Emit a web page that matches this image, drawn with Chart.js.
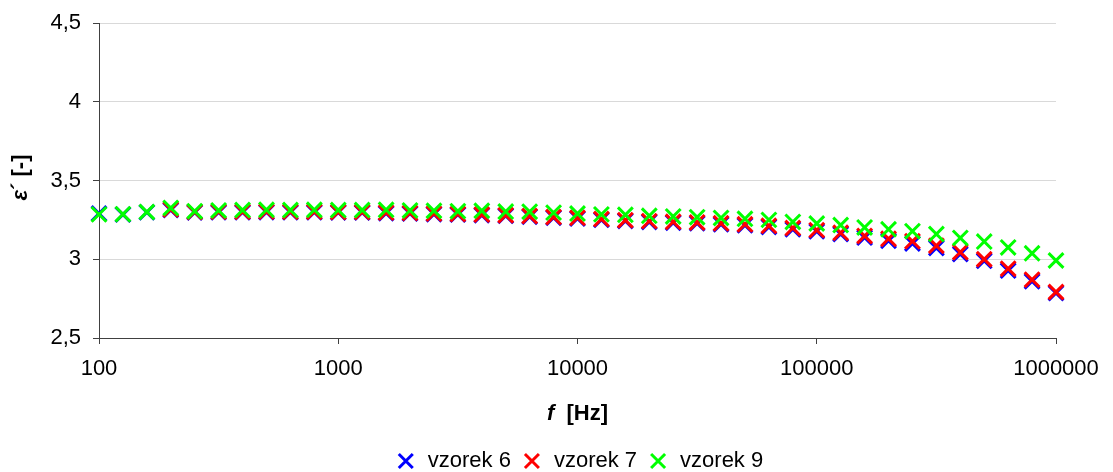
<!DOCTYPE html>
<html><head><meta charset="utf-8">
<script src="https://cdn.jsdelivr.net/npm/chart.js@4"></script>
<style>html,body{margin:0;padding:0;background:#fff}#wrap{width:1113px;height:472px}</style>
</head><body><div id="wrap"><canvas id="c" width="1113" height="472"></canvas></div>
<script>
const freqs = [100,125.9,158.5,199.5,251.2,316.2,398.1,501.2,631,794.3,
 1000,1259,1585,1995,2512,3162,3981,5012,6310,7943,
 10000,12589,15849,19953,25119,31623,39811,50119,63096,79433,
 100000,125893,158489,199526,251189,316228,398107,501187,630957,794328,1000000];
const vzorek6 = [3.29,3.284,3.298,3.312,3.297,3.298,3.298,3.299,3.298,3.298,
 3.297,3.296,3.292,3.29,3.286,3.284,3.28,3.276,3.27,3.264,
 3.258,3.25,3.243,3.237,3.232,3.228,3.222,3.215,3.205,3.19,
 3.177,3.16,3.138,3.118,3.1,3.072,3.033,2.99,2.928,2.86,2.785];
const vzorek7 = [null,null,null,3.316,3.30,3.302,3.302,3.303,3.302,3.302,
 3.30,3.30,3.296,3.294,3.29,3.288,3.284,3.28,3.274,3.268,
 3.263,3.255,3.248,3.242,3.238,3.234,3.228,3.222,3.212,3.198,
 3.185,3.168,3.148,3.13,3.114,3.086,3.045,3.0,2.94,2.87,2.792];
const vzorek9 = [3.285,3.286,3.30,3.326,3.305,3.31,3.312,3.314,3.312,3.314,
 3.312,3.312,3.314,3.31,3.308,3.305,3.308,3.303,3.302,3.296,
 3.29,3.285,3.282,3.276,3.272,3.267,3.262,3.257,3.25,3.237,
 3.227,3.217,3.202,3.19,3.178,3.16,3.135,3.112,3.075,3.038,2.992];
const xTicks = [100,1000,10000,100000,1000000];
const yTicks = [2.5,3,3.5,4,4.5];
const yTickLabels = ['2,5','3','3,5','4','4,5'];
const seriesNames = ['vzorek 6','vzorek 7','vzorek 9'];

const FAM = "'Liberation Sans', Arial, sans-serif";
const FS = 22;
function pts(vals){ return freqs.map((f,i)=>({x:f,y:vals[i]})).filter(p=>p.y!==null); }
function ds(label, vals, color, order){
  return {label, data: pts(vals), showLine:false, pointStyle:'crossRot', order,
    pointRadius:10.5, pointHoverRadius:10.5, pointBorderWidth:3,
    borderColor:color, backgroundColor:color, borderWidth:3, clip:false};
}
const titles = {
  id:'titles',
  afterDraw(chart){
    const ctx = chart.ctx, a = chart.chartArea;
    function runs(parts){
      let w = 0;
      parts.forEach(p=>{ ctx.font = p[1]+' '+FS+'px '+FAM; p.w = ctx.measureText(p[0]).width; w += p.w; });
      return w;
    }
    function draw(parts, startX){
      let x = startX;
      parts.forEach(p=>{ ctx.font = p[1]+' '+FS+'px '+FAM; ctx.fillText(p[0], x, 0); x += p.w; });
    }
    ctx.save();
    ctx.fillStyle = '#000'; ctx.textBaseline = 'middle'; ctx.textAlign = 'left';
    const xt = [['f','italic bold'],['  [Hz]','bold']];
    const wx = runs(xt);
    ctx.save(); ctx.translate((a.left+a.right)/2, 414); draw(xt, -wx/2); ctx.restore();
    const yt = [['ε','italic bold'],['´ [-]','bold']];
    const wy = runs(yt);
    ctx.save(); ctx.translate(21, (a.top+a.bottom)/2 - 3); ctx.rotate(-Math.PI/2); draw(yt, -wy/2); ctx.restore();
    ctx.restore();
  }
};
new Chart(document.getElementById('c'), {
  type:'scatter',
  data:{datasets:[ds(seriesNames[0],vzorek6,'#0000FF',2), ds(seriesNames[1],vzorek7,'#FF0000',1), ds(seriesNames[2],vzorek9,'#00FF00',0)]},
  plugins:[titles],
  options:{
    responsive:false, animation:false, devicePixelRatio:1,
    layout:{padding:{left:45,right:0,top:16,bottom:-10}},
    plugins:{
      tooltip:{enabled:false},
      legend:{position:'bottom', labels:{usePointStyle:true, boxHeight:14, color:'#000', font:{family:FAM,size:FS}, padding:10,
        sort:(a,b)=>a.datasetIndex-b.datasetIndex}}
    },
    scales:{
      x:{type:'logarithmic', min:100, max:1000000,
        afterBuildTicks:s=>{ s.ticks = xTicks.map(v=>({value:v})); },
        afterFit:s=>{ s.height = 102; },
        border:{color:'#404040', width:1},
        grid:{drawOnChartArea:false, color:'#404040', tickLength:6},
        ticks:{color:'#000', font:{family:FAM,size:FS}, padding:12, maxRotation:0, autoSkip:false,
          callback:v=>String(v)}
      },
      y:{min:2.5, max:4.5,
        afterBuildTicks:s=>{ s.ticks = yTicks.map(v=>({value:v})); },
        afterFit:s=>{ s.width = 54; },
        border:{color:'#404040', width:1},
        grid:{color:'#d9d9d9', tickColor:'#404040', tickLength:6},
        ticks:{color:'#000', font:{family:FAM,size:FS,lineHeight:1}, padding:12,
          callback:v=>{ const i=yTicks.indexOf(v); return i>=0?yTickLabels[i]:''; }}
      },
      yR:{position:'right', display:true, min:0, max:1,
        afterFit:s=>{ s.width = 57; },
        grid:{display:false}, border:{display:false}, ticks:{display:false}}
    }
  }
});
</script></body></html>
